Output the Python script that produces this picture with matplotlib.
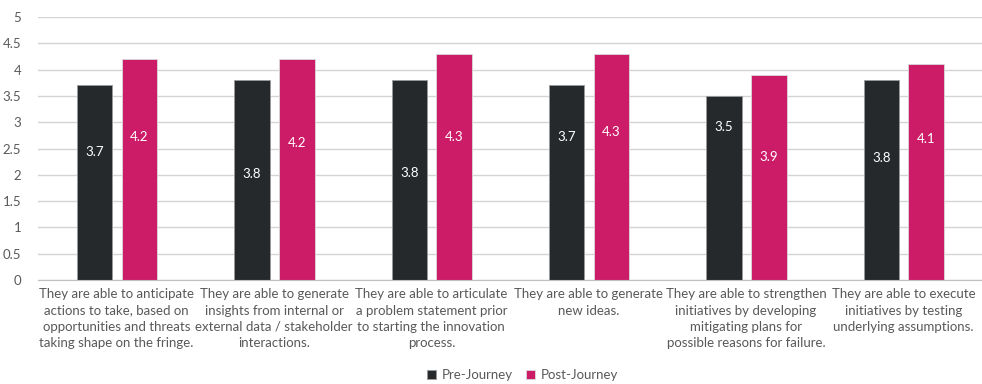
import numpy as np
import matplotlib.pyplot as plt

categories = [
    "They are able to anticipate\nactions to take, based on\nopportunities and threats\ntaking shape on the fringe.",
    "They are able to generate\ninsights from internal or\nexternal data / stakeholder\ninteractions.",
    "They are able to articulate\na problem statement prior\nto starting the innovation\nprocess.",
    "They are able to generate\nnew ideas.",
    "They are able to strengthen\ninitiatives by developing\nmitigating plans for\npossible reasons for failure.",
    "They are able to execute\ninitiatives by testing\nunderlying assumptions.",
]
pre_journey = [3.7, 3.8, 3.8, 3.7, 3.5, 3.8]
post_journey = [4.2, 4.2, 4.3, 4.3, 3.9, 4.1]
yticks = [0, 0.5, 1, 1.5, 2, 2.5, 3, 3.5, 4, 4.5, 5]

# heights where the value labels sit inside the bars (as placed in the original)
pre_label_y = [2.43, 2.02, 2.04, 2.72, 2.91, 2.31]
post_label_y = [2.72, 2.61, 2.72, 2.82, 2.33, 2.69]

plt.rcParams['font.family'] = ['Lato', 'DejaVu Sans']

fig = plt.figure(figsize=(9.82, 3.84), dpi=100)
ax = fig.add_axes([38/982, 1 - 280/384, 1 - 38/982, (280 - 17)/384])

x = np.arange(len(categories))
w = 0.225
dark = '#25292c'
pink = '#cc1c67'
b1 = ax.bar(x - 0.14, pre_journey, w, color=dark, label='Pre-Journey', zorder=3,
            edgecolor='#9a9a9a', linewidth=0.6)
b2 = ax.bar(x + 0.145, post_journey, w, color=pink, label='Post-Journey', zorder=3,
            edgecolor='#d9d9d9', linewidth=0.6)

for bars, vals, ly in [(b1, pre_journey, pre_label_y), (b2, post_journey, post_label_y)]:
    for r, v, y in zip(bars, vals, ly):
        ax.text(r.get_x() + r.get_width() / 2, y, f"{v:g}", ha='center', va='center',
                color='white', fontsize=9.5, zorder=4)

ax.set_xlim(-0.5, len(categories) - 0.5)
ax.set_ylim(0, 5)
ax.set_yticks(yticks)
ax.set_yticklabels([f"{t:g}" for t in yticks])
ax.yaxis.grid(True, color='#d4d4d4', linewidth=1, zorder=0)
ax.set_axisbelow(True)
for s in ['top', 'right', 'left']:
    ax.spines[s].set_visible(False)
ax.spines['bottom'].set_color('#bfbfbf')
ax.spines['bottom'].set_zorder(5)
ax.tick_params(axis='y', length=0, colors='#595959', labelsize=9.5, pad=12)
ax.tick_params(axis='x', length=0, colors='#595959', labelsize=9.5, pad=6)
ax.set_xticks(x)
ax.set_xticklabels(categories, linespacing=1.42)

fig.legend(loc='lower center', bbox_to_anchor=(0.532, -0.024), ncol=2, frameon=False,
           fontsize=9.5, labelcolor='#595959', handlelength=0.7, handleheight=0.7,
           columnspacing=1.0, handletextpad=0.4)

fig.savefig('out.png', dpi=100)
